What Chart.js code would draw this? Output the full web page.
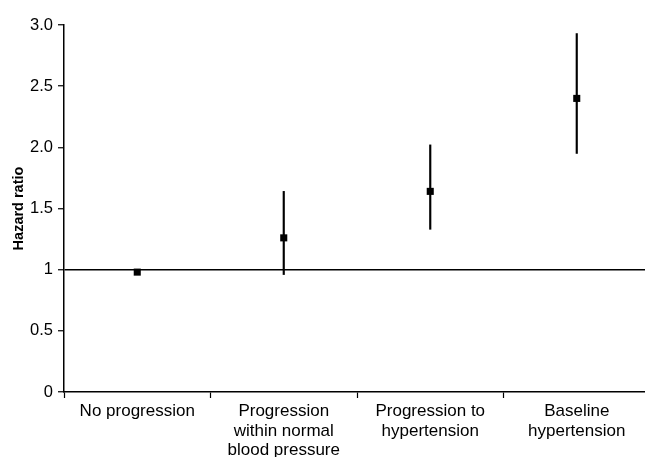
<!DOCTYPE html>
<html>
<head>
<meta charset="utf-8">
<script src="https://cdn.jsdelivr.net/npm/chart.js@4/dist/chart.umd.min.js"></script>
<style>
  html, body { margin: 0; padding: 0; background: #fff; overflow: hidden; }
  #wrap { width: 645px; height: 457px; overflow: hidden; }
</style>
</head>
<body>
<div id="wrap"><canvas id="c" width="650" height="457"></canvas></div>
<script>
const categories = [
  ['No progression'],
  ['Progression', 'within normal', 'blood pressure'],
  ['Progression to', 'hypertension'],
  ['Baseline', 'hypertension']
];
const hazardRatio = [0.98, 1.26, 1.64, 2.40];
const ciLower = [null, 0.96, 1.33, 1.95];
const ciUpper = [null, 1.64, 2.02, 2.93];
const yTickLabels = ['0', '0.5', '1', '1.5', '2.0', '2.5', '3.0'];

const ciData = ciLower.map((l, i) => (l === null ? null : [l, ciUpper[i]]));
const FONT = "'Liberation Sans', Arial, sans-serif";

new Chart(document.getElementById('c'), {
  type: 'bar',
  data: {
    labels: categories,
    datasets: [
      {
        type: 'line',
        label: 'Hazard ratio',
        data: hazardRatio,
        showLine: false,
        pointStyle: 'rect',
        pointRadius: 5,
        pointBorderWidth: 0,
        pointBackgroundColor: '#000',
        pointBorderColor: '#000',
        order: 0
      },
      {
        type: 'bar',
        label: '95% CI',
        data: ciData,
        backgroundColor: '#000',
        borderWidth: 0,
        barThickness: 1.5,
        grouped: false,
        order: 1
      }
    ]
  },
  options: {
    responsive: false,
    animation: false,
    layout: { autoPadding: false, padding: { top: 25, right: 0, left: 0, bottom: 0 } },
    plugins: { legend: { display: false }, tooltip: { enabled: false } },
    scales: {
      x: {
        type: 'category',
        offset: true,
        border: { display: true, color: '#000', width: 1.5 },
        grid: {
          display: true,
          offset: true,
          drawOnChartArea: false,
          drawTicks: true,
          tickLength: 6,
          tickColor: '#000',
          tickWidth: 1.2,
          color: '#000'
        },
        ticks: {
          color: '#000',
          font: { family: FONT, size: 17, lineHeight: 1.13 },
          padding: 4,
          maxRotation: 0,
          autoSkip: false
        },
        afterFit: (s) => { s.height = 65; }
      },
      y: {
        min: 0,
        max: 3,
        border: { display: true, color: '#000', width: 1.5 },
        grid: {
          drawTicks: true,
          tickLength: 6,
          tickColor: '#000',
          tickWidth: 1.2,
          lineWidth: 1.5,
          color: (ctx) => (ctx.tick && ctx.tick.value === 1 ? '#000' : 'rgba(0,0,0,0)')
        },
        ticks: {
          stepSize: 0.5,
          color: '#000',
          font: { family: FONT, size: 16.5 },
          padding: 5,
          callback: (v, i) => yTickLabels[i]
        },
        title: {
          display: true,
          text: 'Hazard ratio',
          color: '#000',
          font: { family: FONT, size: 14.5, weight: 'bold' },
          padding: { top: 10, bottom: 0 }
        },
        afterFit: (s) => { s.width = 64; }
      }
    }
  }
});
</script>
</body>
</html>
